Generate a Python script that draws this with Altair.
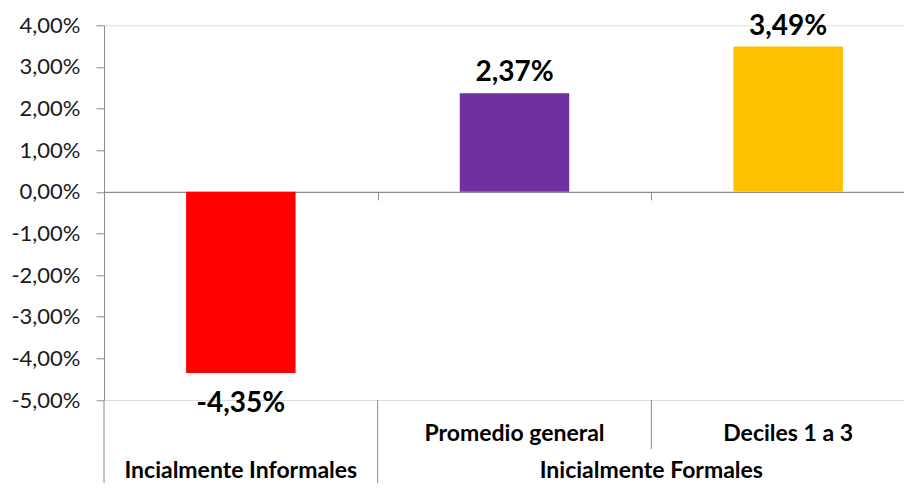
import altair as alt
import pandas as pd

# ---- data ----
keys = ["Incialmente Informales", "Promedio general", "Deciles 1 a 3"]
sub_labels = ["", "Promedio general", "Deciles 1 a 3"]
groups = ["Incialmente Informales", "Inicialmente Formales", "Inicialmente Formales"]
values = [-0.0435, 0.0237, 0.0349]
colors = ["#FF0000", "#7030A0", "#FFC000"]
y_ticks = [-0.05, -0.04, -0.03, -0.02, -0.01, 0.0, 0.01, 0.02, 0.03, 0.04]

df = pd.DataFrame({"key": keys, "sub": sub_labels, "group": groups,
                   "value": values, "color": colors})
df["group_start"] = [i == 0 or groups[i] != groups[i - 1] for i in range(len(groups))]

# group label rows: odd-size group -> centre of middle member, even -> start of member n/2
grp_rows = []
for g in dict.fromkeys(groups):
    members = [k for k, gg in zip(keys, groups) if gg == g]
    n = len(members)
    grp_rows.append({"key": members[n // 2], "group": g, "odd": n % 2 == 1})
gdf = pd.DataFrame(grp_rows)

# ---- layout ----
PAD_L, PAD_T, PAD_B, PAD_R = 96, 17.3, 83, -21
W, H = 821, 374.7
Y_DOMAIN = [-0.05, 0.04]
zero_from_top = H * (Y_DOMAIN[1] - 0) / (Y_DOMAIN[1] - Y_DOMAIN[0])
AXIS_GRAY = "#8c8c8c"
FONT = "Lato"

xscale = alt.Scale(domain=keys, paddingInner=0, paddingOuter=0)
yscale = alt.Scale(domain=Y_DOMAIN, nice=False, zero=False)
xaxis = alt.Axis(orient="bottom", offset=-(H - zero_from_top), labels=False,
                 title=None, tickBand="extent", tickSize=8, tickWidth=1,
                 tickColor=AXIS_GRAY, domainColor=AXIS_GRAY, domainWidth=1.3,
                 grid=False)
yaxis = alt.Axis(values=y_ticks, format=".2%", title=None, grid=False,
                 tickSize=8, labelPadding=16, labelFont=FONT, labelFontSize=22,
                 labelColor="#1a1a1a", tickColor=AXIS_GRAY, domainColor=AXIS_GRAY)


def X(band=None):
    if band is None:
        return alt.X("key:N", sort=keys, scale=xscale, axis=xaxis)
    return alt.X("key:N", sort=keys, scale=xscale, axis=xaxis, bandPosition=band)


base = alt.Chart(df)

bars = base.mark_bar(width=alt.RelativeBandSize(0.4)).encode(
    x=X(),
    y=alt.Y("value:Q", scale=yscale, axis=yaxis),
    color=alt.Color("color:N", scale=None),
)

pos_labels = base.transform_filter("datum.value >= 0").mark_text(
    baseline="alphabetic", dy=-12, font=FONT, fontSize=28, fontWeight="bold",
    color="black").encode(
    x=X(),
    y=alt.Y("value:Q", scale=yscale, axis=yaxis),
    text=alt.Text("value:Q", format=".2%"),
)
neg_labels = base.transform_filter("datum.value < 0").mark_text(
    baseline="alphabetic", dy=39, font=FONT, fontSize=28, fontWeight="bold",
    color="black").encode(
    x=X(),
    y=alt.Y("value:Q", scale=yscale, axis=yaxis),
    text=alt.Text("value:Q", format=".2%"),
)

sub_text = base.transform_filter("datum.sub != ''").mark_text(
    baseline="alphabetic", font=FONT, fontSize=23, fontWeight="bold",
    color="black").encode(
    x=X(),
    y=alt.value(H + 40.5),
    text="sub:N",
)

grp_odd = alt.Chart(gdf).transform_filter("datum.odd").mark_text(
    baseline="alphabetic", font=FONT, fontSize=23, fontWeight="bold",
    color="black").encode(
    x=X(0.5),
    y=alt.value(H + 78),
    text="group:N",
)
grp_even = alt.Chart(gdf).transform_filter("!datum.odd").mark_text(
    baseline="alphabetic", font=FONT, fontSize=23, fontWeight="bold",
    color="black").encode(
    x=X(0),
    y=alt.value(H + 78),
    text="group:N",
)

long_rules = base.transform_filter("datum.group_start").mark_rule(
    color=AXIS_GRAY, strokeWidth=1).encode(
    x=X(0),
    y=alt.value(H),
    y2=alt.value(H + PAD_B),
)
short_rules = base.transform_filter("!datum.group_start").mark_rule(
    color=AXIS_GRAY, strokeWidth=1).encode(
    x=X(0),
    y=alt.value(H),
    y2=alt.value(H + 49),
)

chart = alt.layer(
    long_rules, short_rules, bars, pos_labels, neg_labels, sub_text, grp_odd, grp_even
).properties(
    width=W, height=H,
    autosize=alt.AutoSizeParams(type="none"),
    padding={"left": PAD_L, "top": PAD_T, "right": PAD_R, "bottom": PAD_B},
).configure_view(stroke=None).configure(
    locale=alt.Locale(number=alt.NumberLocale(
        decimal=",", thousands=".", grouping=[3], currency=["", " €"], minus="-"))
)

chart.save("out.html", embed_options={"renderer": "svg", "actions": False})
